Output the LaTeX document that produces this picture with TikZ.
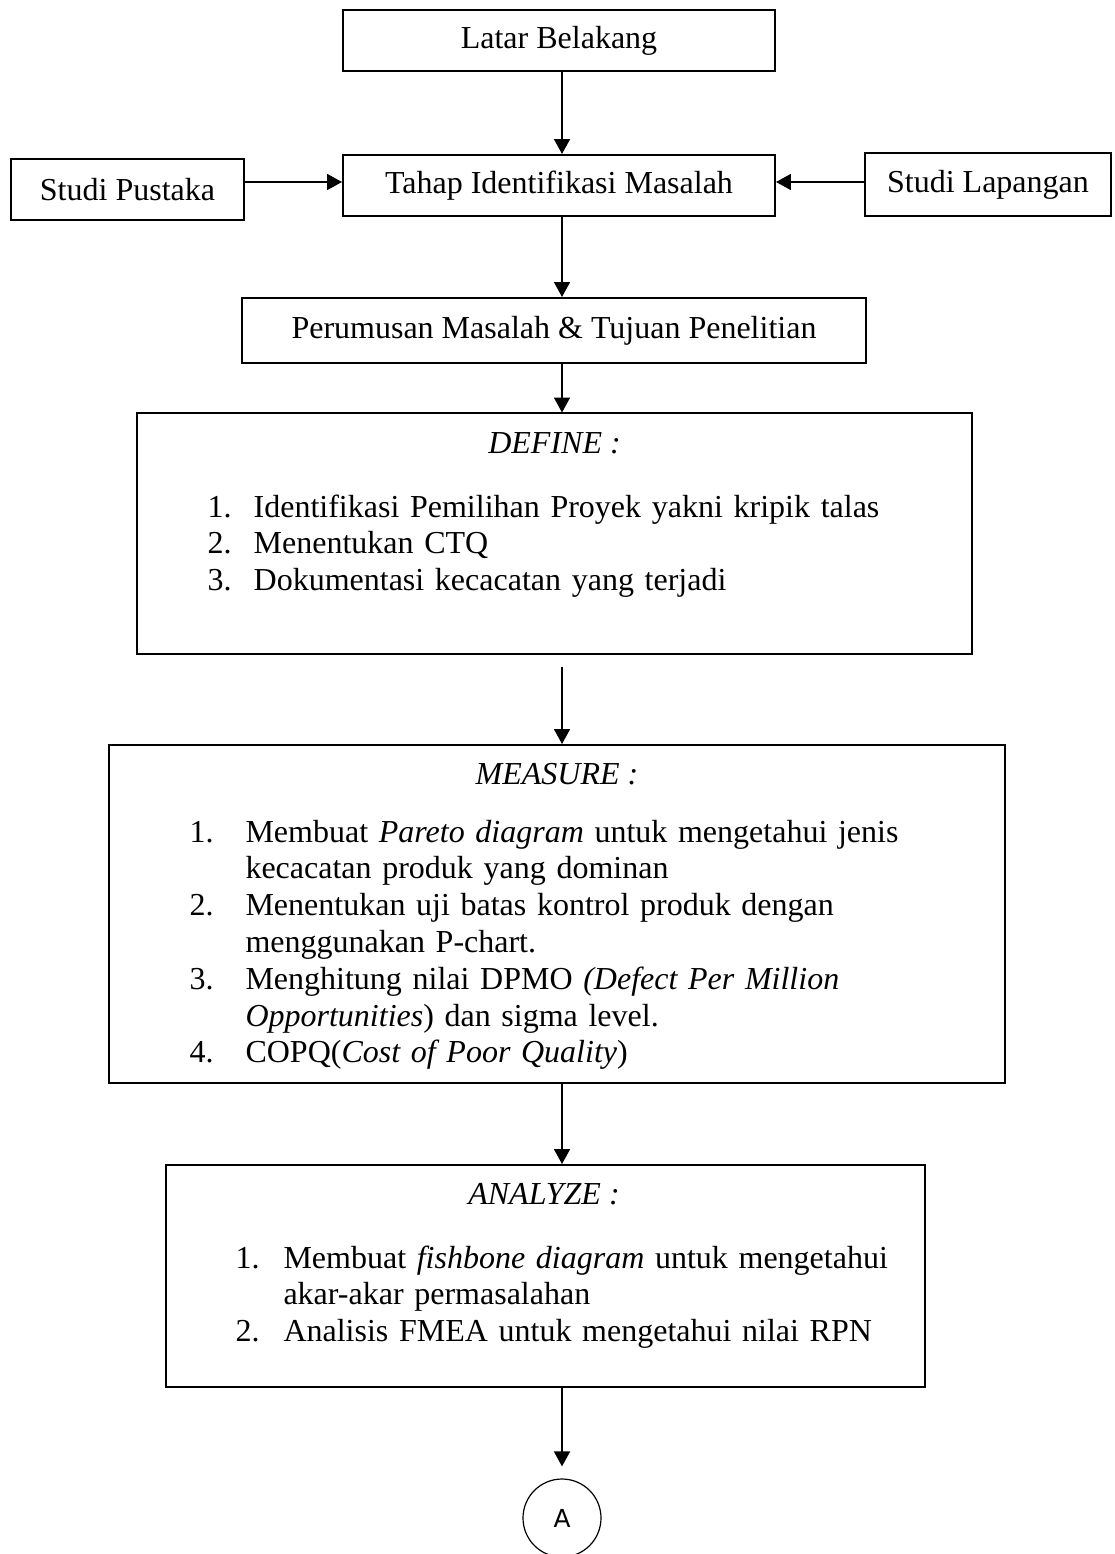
\documentclass[tikz,border=0pt]{standalone}
\usepackage{fontspec}
\setmainfont{Liberation Serif}
\newfontfamily\connfont{DejaVu Sans}
\usetikzlibrary{arrows.meta}

\newlength\numw
\newcommand{\nitem}[2]{\hangindent=\numw\hangafter=1\noindent\makebox[\numw][l]{#1}#2\par}

\tikzset{
  box/.style={draw, line width=0.75pt, inner sep=0pt},
  arr/.style={-{Triangle[length=5.6pt,width=6pt]}, line width=0.55pt},
  lst/.style={anchor=base west, inner sep=0pt},
}

\begin{document}
\begin{tikzpicture}[x=0.375pt, y=-0.375pt, every node/.style={font=\fontsize{12}{13.8}\selectfont}]
    % Frame of the page
    \clip (0,0) rectangle (1114,1554);

    % Define guide lines for the arrows
    \coordinate (spine) at (562,0);
    \coordinate (side) at (0,182);

    % First steps
    \node[box, minimum width=162pt, minimum height=22.9pt] (latar) at (559,40.5) {Latar Belakang};
    \node[box, minimum width=162pt, minimum height=22.9pt] (tahap) at (559,185.5) {Tahap Identifikasi Masalah};
    \node[box, minimum width=87.4pt, minimum height=22.9pt] (pustaka) at (127.5,189.5) {Studi Pustaka};
    \node[box, minimum width=92.25pt, minimum height=23.6pt] (lapangan) at (988,184.5) {Studi Lapangan};
    \node[box, minimum width=234pt, minimum height=24.4pt] (rumusan) at (554,330.5) {Perumusan Masalah \& Tujuan Penelitian};

    % DEFINE stage
    \node[box, minimum width=313.1pt, minimum height=90pt] (define) at (554.5,533.5) {};
    \node[anchor=base] (defhead) at (554.5,453) {\textit{DEFINE :}};
    \node[lst, text width=270pt] (deflist) at (207,517) {\raggedright\setlength\numw{17.3pt}%
      \nitem{1.}{Identifikasi Pemilihan Proyek yakni kripik talas}
      \nitem{2.}{Menentukan CTQ}
      \nitem{3.}{Dokumentasi kecacatan yang terjadi}};

    % MEASURE stage
    \node[box, minimum width=336pt, minimum height=126.75pt] (measure) at (557,914) {};
    \node[anchor=base] (meahead) at (557,784) {\textit{MEASURE :}};
    \node[lst, text width=298.1pt] (mealist) at (189,842) {\setlength\numw{21pt}%
      \nitem{1.}{Membuat \textit{Pareto diagram} untuk mengetahui jenis\linebreak kecacatan produk yang dominan}
      \nitem{2.}{Menentukan uji batas kontrol produk dengan\linebreak menggunakan P-chart.}
      \nitem{3.}{Menghitung nilai DPMO \textit{(Defect Per Million\linebreak Opportunities}) dan sigma level.}
      \nitem{4.}{COPQ(\textit{Cost of Poor Quality})}};

    % ANALYZE stage
    \node[box, minimum width=284.6pt, minimum height=83.25pt] (analyze) at (545.5,1276) {};
    \node[anchor=base] (anahead) at (544,1204) {\textit{ANALYZE :}};
    \node[lst, text width=251.25pt] (analist) at (235,1268) {\setlength\numw{18pt}%
      \nitem{1.}{Membuat \textit{fishbone diagram} untuk mengetahui\linebreak akar-akar permasalahan}
      \nitem{2.}{Analisis FMEA untuk mengetahui nilai RPN}};

    % Connector to next page
    \node[circle, draw, line width=0.45pt, minimum size=29.25pt, inner sep=0pt,
          font=\connfont\fontsize{9.3}{10}\selectfont] (conA) at (562,1518) {A};

    % Draw arrows
    \draw[arr] (latar.south -| spine) -- (tahap.north -| spine);
    \draw[arr] (pustaka.east |- side) -- (tahap.west |- side);
    \draw[arr] (lapangan.west |- side) -- (tahap.east |- side);
    \draw[arr] (tahap.south -| spine) -- (rumusan.north -| spine);
    \draw[arr] (rumusan.south -| spine) -- (define.north -| spine);
    \draw[arr, shorten <=4.5pt] (define.south -| spine) -- (measure.north -| spine);
    \draw[arr] (measure.south -| spine) -- (analyze.north -| spine);
    \draw[arr, shorten >=4.5pt] (analyze.south -| spine) -- (conA.north -| spine);
\end{tikzpicture}
\end{document}
